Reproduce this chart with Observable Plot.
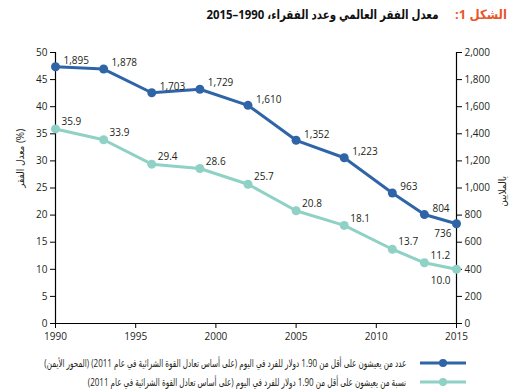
<!DOCTYPE html>
<html>
<head>
<meta charset="utf-8">
<script src="https://cdn.jsdelivr.net/npm/d3@7"></script>
<script src="https://cdn.jsdelivr.net/npm/@observablehq/plot@0.6"></script>
<style>
  body { margin: 0; background: #fff; width: 512px; overflow: hidden; }
  #title { height: 30px; box-sizing: border-box; direction: rtl; text-align: right; padding-right: 5px;
           font-family: "Open Sans", "DejaVu Sans Condensed", "DejaVu Sans", sans-serif; font-weight: bold; font-size: 13px; line-height: 28px; color: #111; white-space: nowrap; }
  #title .fig { color: #e8572a; margin-left: 16px; }
  #legend { direction: rtl; padding-right: 46px; padding-top: 3px; font-family: "Open Sans", "DejaVu Sans Condensed", "DejaVu Sans", sans-serif; font-size: 10.5px; color: #231f20; }
  .row { display: flex; align-items: center; height: 19px; white-space: nowrap; }
  .sw { width: 46px; height: 10px; margin-left: 14px; flex: none; }
  .row span { display: inline-block; transform-origin: right center; }
</style>
</head>
<body>
<div id="title"><span class="fig">الشكل 1:</span><span id="tmain">معدل الفقر العالمي وعدد الفقراء، 1990–2015</span></div>
<div id="chart"></div>
<div id="legend"></div>
<script>
const years = [1990, 1993, 1996, 1999, 2002, 2005, 2008, 2011, 2013, 2015];
const poorMillions = [1895, 1878, 1703, 1729, 1610, 1352, 1223, 963, 804, 736];
const poorRate = [35.9, 33.9, 29.4, 28.6, 25.7, 20.8, 18.1, 13.7, 11.2, 10.0];
const xTicks = [1990, 1995, 2000, 2005, 2010, 2015];
const leftTicks = [0, 5, 10, 15, 20, 25, 30, 35, 40, 45, 50];
const rightTicks = [0, 200, 400, 600, 800, 1000, 1200, 1400, 1600, 1800, 2000];
const leftLabel = "معدل الفقر (%)";
const rightLabel = "بالملايين";
const legendLabels = [
  "عدد من يعيشون على أقل من 1.90 دولار للفرد في اليوم (على أساس تعادل القوة الشرائية في عام 2011) (المحور الأيمن)",
  "نسبة من يعيشون على أقل من 1.90 دولار للفرد في اليوم (على أساس تعادل القوة الشرائية في عام 2011)"
];

const blue = "#2f65a7";
const teal = "#8fd1c5";
const ratio = 2000 / 50; // right axis (millions) to left axis (%)

const blueData = years.map((year, i) => ({year, value: poorMillions[i], y: poorMillions[i] / ratio, i}));
const tealData = years.map((year, i) => ({year, value: poorRate[i], y: poorRate[i], i}));
const last = years.length - 1;
const fmtM = d3.format(",");
const fmtR = d3.format(".1f");
const font = "'Open Sans', 'DejaVu Sans Condensed', 'DejaVu Sans', sans-serif";

const chart = Plot.plot({
  width: 512,
  height: 320,
  marginLeft: 55,
  marginRight: 56,
  marginTop: 22,
  marginBottom: 27,
  style: {fontFamily: font, fontSize: "10px", color: "#231f20", background: "#fff"},
  x: {domain: [1990, 2015]},
  y: {domain: [0, 50]},
  marks: [
    Plot.axisX({ticks: xTicks, tickFormat: d => String(d), tickSize: 5, tickPadding: 4, label: null, stroke: "#000"}),
    Plot.axisY({anchor: "left", ticks: leftTicks, tickSize: 5, tickPadding: 3, label: null, stroke: "#000"}),
    Plot.axisY({anchor: "right", ticks: leftTicks, tickFormat: (d, i) => fmtM(rightTicks[i]), tickSize: 5, tickPadding: 3, label: null, stroke: "#000"}),
    Plot.ruleX([1990, 2015], {stroke: "#000", strokeWidth: 1.2}),
    Plot.ruleY([0], {stroke: "#000", strokeWidth: 1.2}),
    Plot.line(tealData, {x: "year", y: "y", stroke: teal, strokeWidth: 3}),
    Plot.dot(tealData, {x: "year", y: "y", fill: teal, r: 4.5}),
    Plot.line(blueData, {x: "year", y: "y", stroke: blue, strokeWidth: 3}),
    Plot.dot(blueData, {x: "year", y: "y", fill: blue, r: 4.5}),
    Plot.text(blueData.filter(d => d.i !== last), {x: "year", y: "y", text: d => fmtM(d.value), dx: 8, dy: -6, textAnchor: "start", fill: "#231f20"}),
    Plot.text(blueData.filter(d => d.i === last), {x: "year", y: "y", text: d => fmtM(d.value), dx: -5, dy: 10, textAnchor: "end", fill: "#231f20"}),
    Plot.text(tealData.filter(d => d.i !== last), {x: "year", y: "y", text: d => fmtR(d.value), dx: 6, dy: -7, textAnchor: "start", fill: "#231f20"}),
    Plot.text(tealData.filter(d => d.i === last), {x: "year", y: "y", text: d => fmtR(d.value), dx: -6, dy: 11, textAnchor: "end", fill: "#231f20"}),
    Plot.text([leftLabel], {frameAnchor: "left", dx: -35, rotate: -90, fill: "#231f20", fontSize: 10}),
    Plot.text([rightLabel], {frameAnchor: "right", dx: 46, dy: -12, rotate: -90, fill: "#231f20", fontSize: 10})
  ]
});
document.getElementById("chart").appendChild(chart);

// fit main title to the reference width
const tmain = document.getElementById("tmain");
tmain.style.display = "inline-block";
tmain.style.transformOrigin = "right center";
const tw = tmain.getBoundingClientRect().width;
if (tw > 232) tmain.style.transform = `scaleX(${232 / tw})`;

const legend = document.getElementById("legend");
const spans = [];
[[blue, legendLabels[0]], [teal, legendLabels[1]]].forEach(([c, t]) => {
  const row = document.createElement("div");
  row.className = "row";
  row.innerHTML = `<svg class="sw" width="46" height="10"><line x1="0" x2="46" y1="5" y2="5" stroke="${c}" stroke-width="3"/><circle cx="23" cy="5" r="4" fill="${c}"/></svg><span>${t}</span>`;
  legend.appendChild(row);
  spans.push(row.querySelector("span"));
});
const w0 = spans[0].getBoundingClientRect().width;
const k = Math.min(1, 362 / w0);
spans.forEach(s => s.style.transform = `scaleX(${k})`);
</script>
</body>
</html>
